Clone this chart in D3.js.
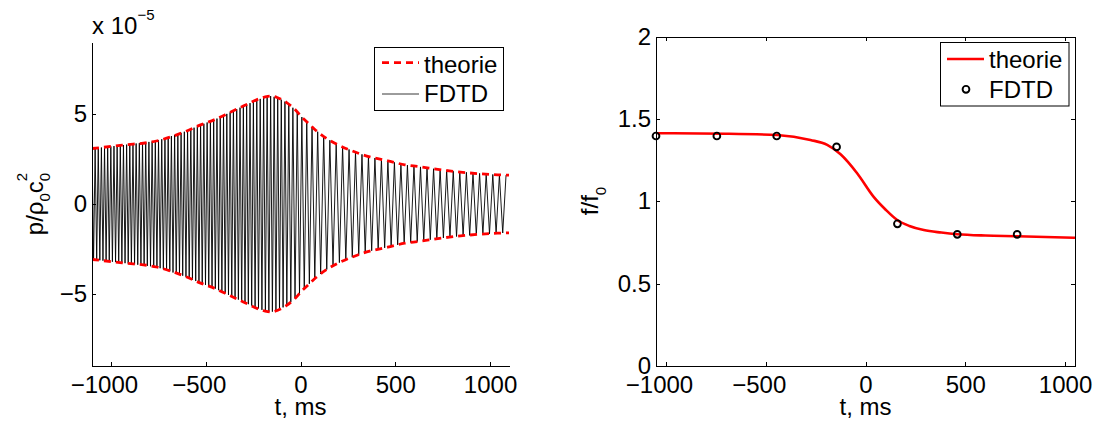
<!DOCTYPE html>
<html><head><meta charset="utf-8">
<script src="https://cdn.jsdelivr.net/npm/d3@7"></script>
<style>
body{margin:0;background:#fff}
svg{display:block}
text{font-family:"Liberation Sans",Arial,Helvetica,sans-serif;fill:#000}
</style>
</head><body>
<svg id="c" width="1096" height="423"></svg>
<script>
// ---------- data ----------
// left panel: envelope of the pressure signal (x 1e-5), theory
const envelopeT = [-1100,-940,-760,-600,-540,-450,-370,-290,-190,-155,-120,-75,-30,10,30,80,135,200,295,365,460,550,620,785,1040,1100];
const envelopeA = [3.08,3.27,3.5,4.06,4.34,4.7,5.1,5.5,5.94,6.0,5.9,5.65,5.26,4.8,4.6,4.1,3.66,3.28,2.86,2.62,2.4,2.18,2.08,1.84,1.62,1.6];
// left panel: FDTD oscillation period (ms) observed along the trace
const periodT  = [-1100,-300,-100,0,100,200,1100];
const periodMs = [16.5,17.5,19,25,32,34,35];
// right panel: instantaneous frequency, theory
const freqTheoryT = [-1050,-700,-443,-276,-192,-125,-42,42,100,159,220,292,380,460,600,761,1050];
const freqTheoryF = [1.413,1.41,1.402,1.372,1.342,1.285,1.17,1.025,0.95,0.886,0.85,0.825,0.81,0.8,0.792,0.788,0.778];
// right panel: FDTD measurements
const fdtdT = [-1050,-745,-445,-145,160,460,760];
const fdtdF = [1.396,1.396,1.396,1.33,0.863,0.799,0.799];
// ticks & labels
const leftXTicks  = [-1000,-500,0,500,1000];
const leftYTicks  = [-5,0,5];
const rightXTicks = [-1000,-500,0,500,1000];
const rightYTicks = [0,0.5,1,1.5,2];
const legendLabels = ["theorie","FDTD"];
const xLabel = "t, ms";

// ---------- drawing ----------
const svg = d3.select("#c");
const FS = 24;
const fmt = d => String(d).replace("-", "\u2212");
const TICK = 4;

function styleAxis(a){
  a.select(".domain").attr("stroke","#000").attr("stroke-width",1).attr("shape-rendering","crispEdges");
  a.selectAll(".tick line").attr("stroke","#000").attr("shape-rendering","crispEdges");
  a.selectAll("text").attr("font-size",FS).attr("font-family","Liberation Sans, Arial, sans-serif").attr("fill","#000");
}
function styleXLabels(a){
  // digits centred on the tick, minus sign hanging to the left (as in the reference)
  a.selectAll(".tick text").attr("y",10).attr("dy","0.71em")
    .attr("dx", d => d < 0 ? -7 : 0);
}

// ===== LEFT PANEL =====
const L = {x0:92, x1:509, y0:42, y1:366};
const xL = d3.scaleLinear().domain([-1100,1100]).range([L.x0, L.x1]);
const yL = d3.scaleLinear().domain([-9,9]).range([L.y1, L.y0]);

svg.append("clipPath").attr("id","clipL").append("rect")
  .attr("x",L.x0).attr("y",L.y0).attr("width",L.x1-L.x0).attr("height",L.y1-L.y0);

// envelope & period interpolators from the read arrays
const envAt = d3.scaleLinear().domain(envelopeT).range(envelopeA).clamp(true);
const perAt = d3.scaleLinear().domain(periodT).range(periodMs).clamp(true);
const trace = [];
{
  let t = -1100, s = 1;
  while (t <= 1100 + 1e-9) {
    trace.push([t, s*envAt(t)]);
    t += perAt(t)/2; s = -s;
  }
}
const gL = svg.append("g");
gL.append("path").datum(trace)
  .attr("clip-path","url(#clipL)")
  .attr("fill","none").attr("stroke","#000").attr("stroke-width",0.9)
  .attr("d", d3.line().x(d=>xL(d[0])).y(d=>yL(d[1])));

const envLine = d3.line().curve(d3.curveMonotoneX).x(d=>xL(d[0])).y(d=>yL(d[1]));
const envTop = envelopeT.map((t,i)=>[t, envelopeA[i]]);
const envBot = envelopeT.map((t,i)=>[t, -envelopeA[i]]);
[envTop, envBot].forEach(e => {
  gL.append("path").datum(e).attr("clip-path","url(#clipL)")
    .attr("fill","none").attr("stroke","#ff0000").attr("stroke-width",2.8)
    .attr("stroke-dasharray","7,5")
    .attr("d", envLine);
});

// axes left (only left and bottom)
const axL = svg.append("g").attr("transform",`translate(0,${L.y1})`)
  .call(d3.axisBottom(xL).tickValues(leftXTicks).tickSizeInner(-TICK).tickSizeOuter(0).tickFormat(fmt));
const ayL = svg.append("g").attr("transform",`translate(${L.x0},0)`)
  .call(d3.axisLeft(yL).tickValues(leftYTicks).tickSizeInner(-TICK).tickSizeOuter(0).tickPadding(5).tickFormat(fmt));
styleAxis(axL); styleAxis(ayL); styleXLabels(axL);

// exponent label
const expT = svg.append("text").attr("x",92).attr("y",34).attr("font-size",FS);
expT.append("tspan").text("x 10");
expT.append("tspan").attr("font-size",15).attr("dy",-14).text("\u22125");

// y label left
const ylab = svg.append("text").attr("transform",`translate(43,204) rotate(-90)`)
  .attr("text-anchor","middle").attr("font-size",FS);
ylab.append("tspan").text("p/\u03c1");
ylab.append("tspan").attr("font-size",15).attr("dy",7).text("0");
ylab.append("tspan").attr("dy",-7).text("c");
ylab.append("tspan").attr("font-size",15).attr("dy",7).text("0");
ylab.append("tspan").attr("font-size",15).attr("dx",-8.4).attr("dy",-23).text("2");

svg.append("text").attr("x",(L.x0+L.x1)/2).attr("y",415).attr("text-anchor","middle")
  .attr("font-size",FS).text(xLabel);

// legend left
const lgL = svg.append("g");
lgL.append("rect").attr("x",374.5).attr("y",47.5).attr("width",129).attr("height",63)
  .attr("fill","#fff").attr("stroke","#000").attr("stroke-width",1);
lgL.append("line").attr("x1",382).attr("x2",419).attr("y1",62.7).attr("y2",62.7)
  .attr("stroke","#ff0000").attr("stroke-width",2.8).attr("stroke-dasharray","7,5");
lgL.append("text").attr("x",424).attr("y",72.7).attr("font-size",FS).text(legendLabels[0]);
lgL.append("line").attr("x1",382).attr("x2",419).attr("y1",94).attr("y2",94)
  .attr("stroke","#222").attr("stroke-width",0.9);
lgL.append("text").attr("x",424).attr("y",101.7).attr("font-size",FS).text(legendLabels[1]);

// ===== RIGHT PANEL =====
const R = {x0:656, x1:1075, y0:36.5, y1:366};
const xR = d3.scaleLinear().domain([-1050,1050]).range([R.x0, R.x1]);
const yR = d3.scaleLinear().domain([0,2]).range([R.y1, R.y0]);
const gR = svg.append("g");

svg.append("clipPath").attr("id","clipR").append("rect")
  .attr("x",R.x0).attr("y",R.y0).attr("width",R.x1-R.x0).attr("height",R.y1-R.y0);

gR.append("path").datum(freqTheoryT.map((t,i)=>[t,freqTheoryF[i]]))
  .attr("clip-path","url(#clipR)")
  .attr("fill","none").attr("stroke","#ff0000").attr("stroke-width",2.6)
  .attr("d", d3.line().curve(d3.curveMonotoneX).x(d=>xR(d[0])).y(d=>yR(d[1])));

gR.selectAll("circle.f").data(fdtdT.map((t,i)=>[t,fdtdF[i]])).join("circle")
  .attr("class","f")
  .attr("cx",d=>xR(d[0])).attr("cy",d=>yR(d[1])).attr("r",3.4)
  .attr("fill","none").attr("stroke","#000").attr("stroke-width",1.9);

const axRb = svg.append("g").attr("transform",`translate(0,${R.y1})`)
  .call(d3.axisBottom(xR).tickValues(rightXTicks).tickSizeInner(-TICK).tickSizeOuter(0).tickFormat(fmt));
const axRt = svg.append("g").attr("transform",`translate(0,${R.y0})`)
  .call(d3.axisTop(xR).tickValues(rightXTicks).tickSizeInner(-TICK).tickSizeOuter(0).tickFormat(""));
const ayRl = svg.append("g").attr("transform",`translate(${R.x0},0)`)
  .call(d3.axisLeft(yR).tickValues(rightYTicks).tickSizeInner(-TICK).tickSizeOuter(0).tickPadding(5).tickFormat(fmt));
const ayRr = svg.append("g").attr("transform",`translate(${R.x1},0)`)
  .call(d3.axisRight(yR).tickValues(rightYTicks).tickSizeInner(-TICK).tickSizeOuter(0).tickFormat(""));
[axRb, axRt, ayRl, ayRr].forEach(styleAxis);
styleXLabels(axRb);

const ylabR = svg.append("text").attr("transform",`translate(598,201) rotate(-90)`)
  .attr("text-anchor","middle").attr("font-size",FS);
ylabR.append("tspan").text("f/f");
ylabR.append("tspan").attr("font-size",15).attr("dy",8).text("0");

svg.append("text").attr("x",(R.x0+R.x1)/2).attr("y",415).attr("text-anchor","middle")
  .attr("font-size",FS).text(xLabel);

// legend right
const lgR = svg.append("g");
lgR.append("rect").attr("x",940.5).attr("y",42.5).attr("width",128.5).attr("height",63.5)
  .attr("fill","#fff").attr("stroke","#000").attr("stroke-width",1);
lgR.append("line").attr("x1",947).attr("x2",984).attr("y1",59).attr("y2",59)
  .attr("stroke","#ff0000").attr("stroke-width",2.6);
lgR.append("text").attr("x",989).attr("y",67.7).attr("font-size",FS).text(legendLabels[0]);
lgR.append("circle").attr("cx",966).attr("cy",89.3).attr("r",3.4)
  .attr("fill","none").attr("stroke","#000").attr("stroke-width",1.9);
lgR.append("text").attr("x",989).attr("y",98.3).attr("font-size",FS).text(legendLabels[1]);
</script>
</body></html>
